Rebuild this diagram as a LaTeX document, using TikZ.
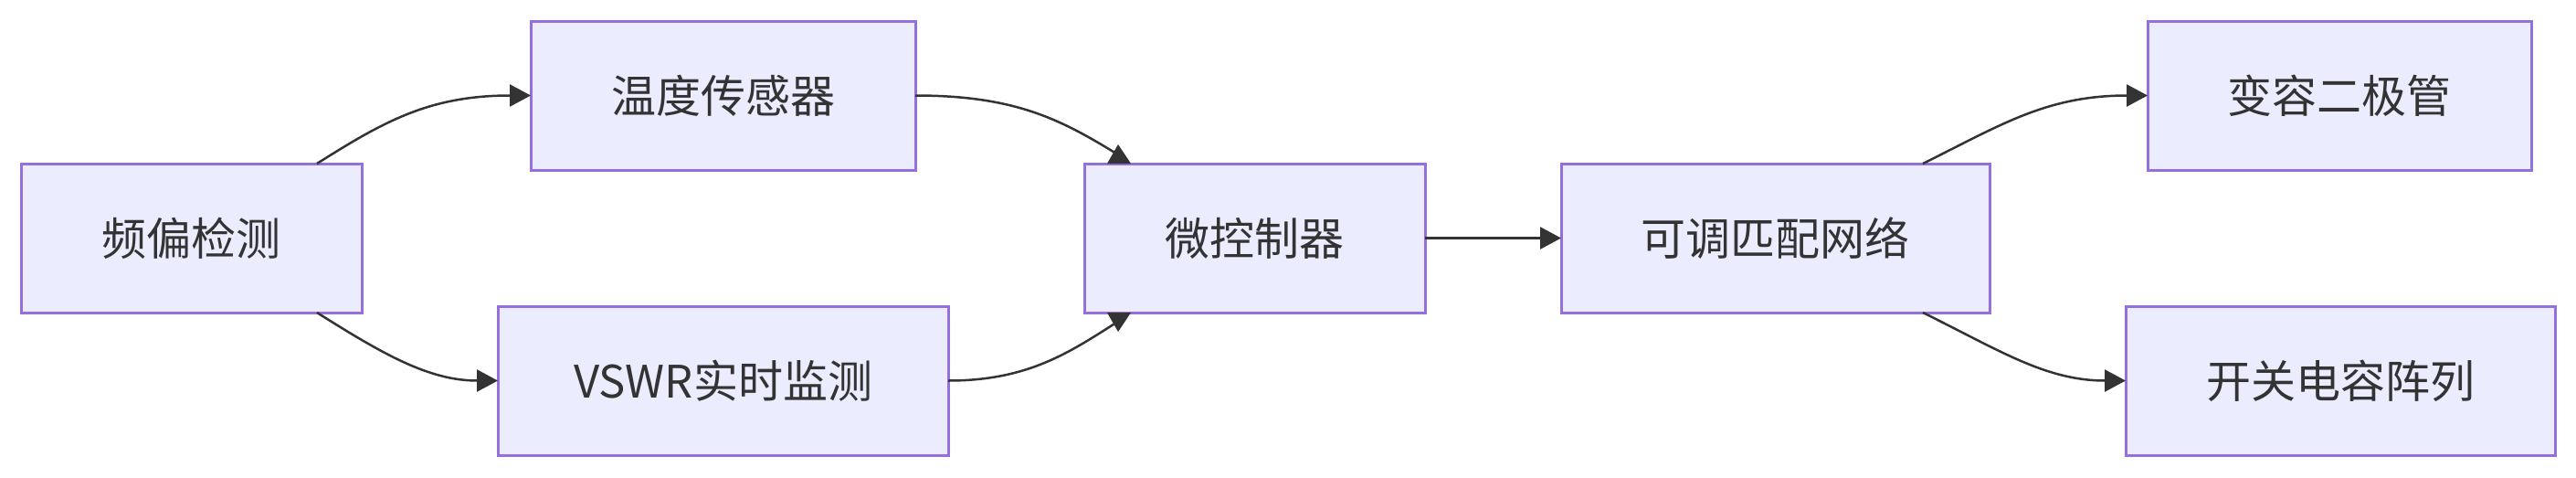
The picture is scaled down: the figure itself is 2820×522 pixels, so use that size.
\documentclass[tikz,border=0pt]{standalone}
\usepackage{fontspec}
\newfontfamily\cjk{Noto Sans CJK SC}
\usetikzlibrary{arrows.meta}
\definecolor{boxfill}{HTML}{ECECFF}
\definecolor{boxline}{HTML}{9370DB}
\definecolor{ink}{HTML}{333333}
\begin{document}
\begin{tikzpicture}[x=1pt,y=-1pt,
  box/.style={draw=boxline, fill=boxfill, line width=3pt, minimum height=163pt,
    inner sep=0pt, outer sep=0pt, font=\cjk\fontsize{49}{58}\selectfont, text=ink},
  edge/.style={draw=ink, line width=2.5pt, -{Triangle[length=23pt,width=24pt]}},
  plainedge/.style={draw=ink, line width=2.5pt},
  tip/.style={fill=ink}]
\useasboundingbox (0,0) rectangle (2820,522);
\fill[white] (0,0) rectangle (2820,522);

\node[box, minimum width=373pt] (freq) at (209.5,260.5) {频偏检测};
\node[box, minimum width=421pt] (temp) at (791.5,104.5) {温度传感器};
\node[box, minimum width=493pt] (vswr) at (791.5,416.5) {VSWR实时监测};
\node[box, minimum width=373pt] (mcu) at (1373.5,260.5) {微控制器};
\node[box, minimum width=469pt] (match) at (1943.5,260.5) {可调匹配网络};
\node[box, minimum width=420pt] (var) at (2561,104.5) {变容二极管};
\node[box, minimum width=470pt] (sw) at (2562,416.5) {开关电容阵列};

% MCU arrow-head points
\coordinate (mtA) at ([xshift=37pt,yshift=21pt]mcu.north west);
\coordinate (mtE) at ([xshift=35pt,yshift=11pt]mcu.north west);
\coordinate (mbA) at ([xshift=37pt,yshift=-21pt]mcu.south west);
\coordinate (mbE) at ([xshift=35pt,yshift=-11pt]mcu.south west);

\draw[edge] ([xshift=-49pt]freq.north east) .. controls (420,133) and (470,104.5) .. (temp.west);
\draw[edge] ([xshift=-49pt]freq.south east) .. controls (420,388) and (470,416.5) .. (vswr.west);

\draw[plainedge] (temp.east) .. controls (1110,104.5) and (1160,130) .. (mtE);
\fill[tip] (mtA) -- ([xshift=25pt]mcu.north west) -- ([xshift=51pt]mcu.north west) -- cycle;

\draw[plainedge] (vswr.east) .. controls (1125,416.5) and (1170,386) .. (mbE);
\fill[tip] (mbA) -- ([xshift=25pt]mcu.south west) -- ([xshift=51pt]mcu.south west) -- cycle;

\draw[edge] (mcu.east) -- (match.west);

\draw[edge] ([xshift=-73pt]match.north east) .. controls (2190,137) and (2240,104.5) .. (var.west);
\draw[edge] ([xshift=-73pt]match.south east) .. controls (2190,384) and (2240,416.5) .. (sw.west);
\end{tikzpicture}
\end{document}
